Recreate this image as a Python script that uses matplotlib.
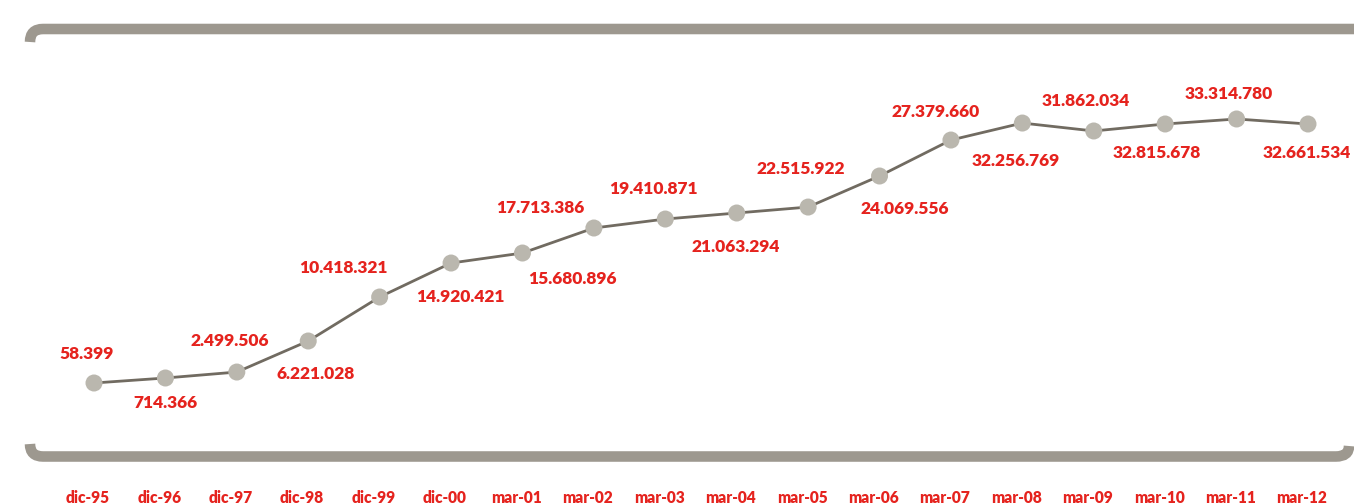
import numpy as np
import matplotlib
matplotlib.use("Agg")
import matplotlib.pyplot as plt
from matplotlib.path import Path
from matplotlib.patches import PathPatch
from matplotlib.transforms import ScaledTranslation

plt.rcParams['font.family'] = ['Lato', 'DejaVu Sans']

# periods on the x axis
periods = ["dic-95", "dic-96", "dic-97", "dic-98", "dic-99", "dic-00",
           "mar-01", "mar-02", "mar-03", "mar-04", "mar-05", "mar-06",
           "mar-07", "mar-08", "mar-09", "mar-10", "mar-11", "mar-12"]

# plotted series (millions)
values = [0.06, 0.69, 1.44, 5.35, 10.89, 15.17, 16.43, 19.58, 20.71,
          21.47, 22.22, 26.13, 30.66, 32.80, 31.80, 32.68, 33.31, 32.68]

# data labels as printed on the chart
value_labels = ["58.399", "714.366", "2.499.506", "6.221.028", "10.418.321",
                "14.920.421", "15.680.896", "17.713.386", "19.410.871",
                "21.063.294", "22.515.922", "24.069.556", "27.379.660",
                "32.256.769", "31.862.034", "32.815.678", "33.314.780",
                "32.661.534"]

# label offsets from the marker, in pixels (dx, dy up)
label_offsets = [(-7, 29), (0, -25), (-7, 31), (7, -33), (-36, 29), (9, -34),
                 (50, -26), (-54, 20), (-12, 30), (-1, -34), (-7, 38), (25, -33),
                 (-15, 28), (-7, -38), (-8, 30), (-8, -29), (-8, 25), (-1, -29)]

red = "#e5231e"
box_col = "#9d988f"
line_col = "#716b61"
marker_col = "#bab7ae"

W, H = 1354, 504
fig = plt.figure(figsize=(W / 100, H / 100), dpi=100)

def fp(x, y):
    return (x / W, 1 - y / H)

# rounded bracket frame (top and bottom)
top = Path([fp(30, 42), fp(30, 29), fp(43, 29), fp(1380, 29)],
           [Path.MOVETO, Path.CURVE3, Path.CURVE3, Path.LINETO])
bot = Path([fp(30, 444), fp(30, 456.5), fp(43, 456.5), fp(1336, 456.5),
            fp(1349, 456.5), fp(1349, 446)],
           [Path.MOVETO, Path.CURVE3, Path.CURVE3, Path.LINETO,
            Path.CURVE3, Path.CURVE3])
for p in (top, bot):
    fig.add_artist(PathPatch(p, transform=fig.transFigure, fill=False,
                             edgecolor=box_col, linewidth=7.6, capstyle='butt'))

ax_bottom = 486
ax = fig.add_axes([0, (H - ax_bottom) / H, 1, ax_bottom / H])
ax.patch.set_visible(False)
for s in ax.spines.values():
    s.set_visible(False)

x = np.arange(len(periods))
step = (1308 - 94) / (len(periods) - 1)
ax.set_xlim(-94 / step, len(periods) - 1 + (W - 1308) / step)
ppm = 7.94
ax.set_ylim(values[0] - (ax_bottom - 383) / ppm, values[0] + 383 / ppm)

ax.plot(x, values, color=line_col, linewidth=2.0, zorder=2)
ax.scatter(x, values, s=150, color=marker_col, edgecolors='none', zorder=3)

for i in range(len(values)):
    dx, dy = label_offsets[i]
    ax.annotate(value_labels[i], (x[i], values[i]), xytext=(dx, dy),
                textcoords='offset pixels', ha='center', va='center',
                color=red, fontsize=12.5, fontweight='heavy', zorder=4)

ax.set_yticks([])
ax.set_xticks(x)
ax.set_xticklabels(periods, color=red, fontsize=11.2, fontweight='heavy')
ax.tick_params(axis='x', length=0, pad=3)
shift = ScaledTranslation(-6 / 100, 0, fig.dpi_scale_trans)
for lab in ax.get_xticklabels():
    lab.set_transform(lab.get_transform() + shift)

fig.savefig("out.png", dpi=100)
